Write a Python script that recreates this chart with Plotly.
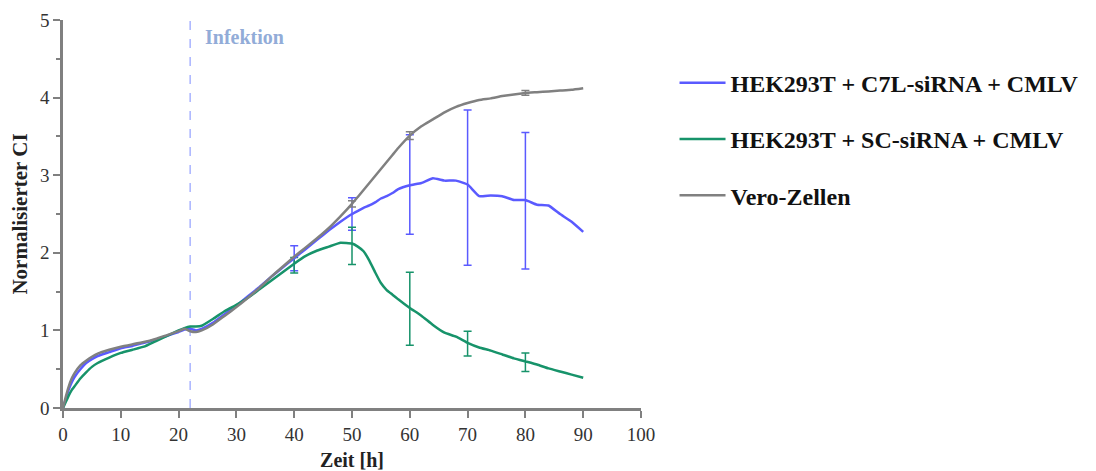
import plotly.graph_objects as go

# time points [h]
zeit = [0, 0.5, 1, 1.5, 2, 3, 4, 5, 6, 8, 10, 12, 14, 16, 18, 20, 21, 22, 23, 24, 26, 28, 30, 32, 34, 36, 38, 40,
        42, 44, 46, 48, 50, 51, 52, 53, 54, 55, 56, 57, 58, 60, 62, 64, 66, 68, 70, 72, 74, 76, 78, 80,
        82, 84, 86, 88, 90]

c7l = [0, 0.12, 0.24, 0.33, 0.40, 0.50, 0.58, 0.63, 0.67, 0.72, 0.77, 0.80, 0.84, 0.88, 0.93, 0.98, 1.01, 1.02, 1.00, 1.02, 1.10, 1.21, 1.32, 1.44, 1.56, 1.69, 1.81, 1.93,
       2.05, 2.17, 2.29, 2.40, 2.50, 2.54, 2.58, 2.61, 2.65, 2.70, 2.73, 2.77, 2.82, 2.87, 2.90, 2.96, 2.93, 2.93, 2.88, 2.73, 2.74, 2.73, 2.68, 2.68,
       2.62, 2.61, 2.50, 2.40, 2.27]

sc = [0, 0.08, 0.16, 0.23, 0.28, 0.38, 0.46, 0.53, 0.58, 0.65, 0.71, 0.75, 0.79, 0.86, 0.93, 1.00, 1.03, 1.05, 1.05, 1.06, 1.15, 1.25, 1.33, 1.42, 1.53, 1.64, 1.75, 1.86,
      1.96, 2.03, 2.08, 2.13, 2.12, 2.08, 2.02, 1.90, 1.75, 1.61, 1.52, 1.46, 1.40, 1.29, 1.19, 1.07, 0.97, 0.92, 0.84, 0.78, 0.74, 0.69, 0.64, 0.60,
      0.56, 0.51, 0.47, 0.43, 0.39]

vero = [0, 0.15, 0.28, 0.38, 0.45, 0.55, 0.61, 0.66, 0.70, 0.75, 0.79, 0.82, 0.85, 0.89, 0.94, 0.99, 1.02, 0.99, 0.98, 1.00, 1.08, 1.19, 1.30, 1.42, 1.55, 1.69, 1.82, 1.95,
        2.07, 2.19, 2.32, 2.47, 2.63, 2.72, 2.81, 2.90, 2.99, 3.08, 3.17, 3.26, 3.35, 3.51, 3.63, 3.72, 3.81, 3.88, 3.93, 3.97, 3.99, 4.02, 4.04, 4.06,
        4.07, 4.08, 4.09, 4.10, 4.12]

# error bars
err_x = [40, 50, 60, 70, 80]
c7l_err_y = [1.93, 2.50, 2.88, 2.84, 2.67]
c7l_err = [0.16, 0.21, 0.64, 1.00, 0.88]
sc_err_y = [1.84, 2.09, 1.28, 0.83, 0.59]
sc_err = [0.10, 0.24, 0.47, 0.16, 0.12]
vero_err_x = [50, 60, 80]
vero_err_y = [2.63, 3.51, 4.06]
vero_err = [0.04, 0.05, 0.03]

infektion_x = 22

BLUE = "#5a5aff"
GREEN = "#17936a"
GRAY = "#808080"
SERIF = "Liberation Serif"

fig = go.Figure()

series = [
    ("HEK293T + C7L-siRNA + CMLV", c7l, BLUE, err_x, c7l_err_y, c7l_err),
    ("HEK293T + SC-siRNA + CMLV", sc, GREEN, err_x, sc_err_y, sc_err),
    ("Vero-Zellen", vero, GRAY, vero_err_x, vero_err_y, vero_err),
]

for i, (name, ys, col, ex, ey, ee) in enumerate(series):
    fig.add_trace(go.Scatter(
        x=ex, y=ey, mode="markers", marker=dict(size=0.1, color=col, opacity=0),
        error_y=dict(type="data", array=ee, color=col, thickness=1.5, width=4),
        showlegend=False, hoverinfo="skip"))

for i, (name, ys, col, ex, ey, ee) in enumerate(series):
    fig.add_trace(go.Scatter(
        x=zeit, y=ys, mode="lines", name=f"<b>{name}</b>", legendgroup=f"g{i}",
        line=dict(color=col, width=2.5, shape="spline", smoothing=0.3)))

fig.add_shape(type="line", x0=infektion_x, x1=infektion_x, y0=0, y1=5, xref="x", yref="y",
              line=dict(color="#a9b4ff", width=1.5, dash="dash"), layer="below")
fig.add_annotation(x=infektion_x + 2.2, y=4.78, xref="x", yref="y", text="<b>Infektion</b>",
                   showarrow=False, xanchor="left", yanchor="middle",
                   font=dict(family=SERIF, size=20, color="#92acd8"))

axis_common = dict(
    showgrid=False, zeroline=False, showline=True, linecolor=GRAY, linewidth=2.5,
    ticks="outside", tickcolor=GRAY, tickwidth=2, ticklen=7, automargin=False,
    tickfont=dict(family=SERIF, size=19, color="#333333"),
)

fig.update_xaxes(range=[0, 100], tickvals=[0, 10, 20, 30, 40, 50, 60, 70, 80, 90, 100],
                 title=dict(text="<b>Zeit [h]</b>", font=dict(family=SERIF, size=20, color="#222"), standoff=12),
                 **axis_common)
fig.update_yaxes(range=[0, 5], tickvals=[0, 1, 2, 3, 4, 5],
                 minor=dict(tickvals=[0.5, 1.5, 2.5, 3.5, 4.5], ticks="outside", ticklen=4, tickcolor=GRAY, tickwidth=2),
                 title=dict(text="<b>Normalisierter CI</b>", font=dict(family=SERIF, size=21, color="#222"), standoff=12),
                 **axis_common)

# page body has an 8px margin, so the figure is sized to sit inside the 1096x471 window
fig.update_layout(
    width=1088, height=463,
    margin=dict(l=55, r=453, t=12, b=63),
    plot_bgcolor="white", paper_bgcolor="white",
    legend=dict(x=1.058, y=0.895, xanchor="left", yanchor="top",
                font=dict(family=SERIF, size=24, color="#111"),
                traceorder="grouped", tracegroupgap=22, itemwidth=46),
)

fig.write_html("out.html")
